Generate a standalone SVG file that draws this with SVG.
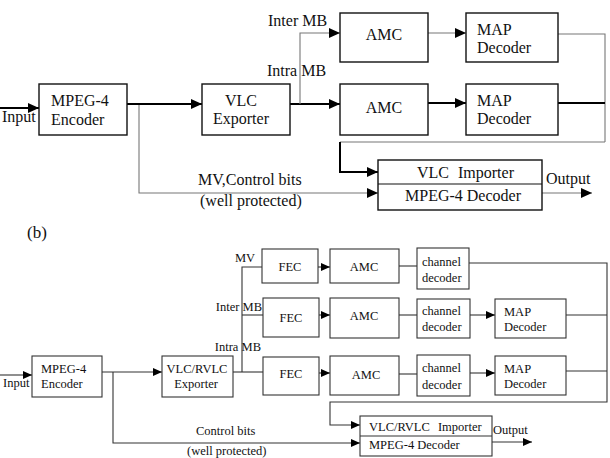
<svg xmlns="http://www.w3.org/2000/svg" width="610" height="458" viewBox="0 0 610 458">
<defs>
<marker id="arrA" markerUnits="userSpaceOnUse" markerWidth="11" markerHeight="10" refX="11" refY="5" orient="auto"><path d="M0,0 L11,5 L0,10 z" fill="#000"/></marker>
<marker id="arrB" markerUnits="userSpaceOnUse" markerWidth="9" markerHeight="8" refX="9" refY="4" orient="auto"><path d="M0,0 L9,4 L0,8 z" fill="#000"/></marker>
</defs>
<style>
.bxA{fill:#fff;stroke:#111;stroke-width:1.4}
.bxB{fill:#fff;stroke:#333;stroke-width:1.1}
text{font-family:'Liberation Serif','Times New Roman','DejaVu Serif',serif;fill:#111}
.tA{font-size:16px}
.tB{font-size:12.5px}
.m{text-anchor:middle}
.e{text-anchor:end}
.thk{fill:none;stroke:#000;stroke-width:2}
.thn{fill:none;stroke:#777;stroke-width:1.1}
.ln{fill:none;stroke:#333;stroke-width:1.1}
</style>
<rect width="610" height="458" fill="#fff"/>

<g id="connectors">
<path class="thk" d="M0,108 H39" marker-end="url(#arrA)"/>
<path class="thk" d="M127,104 H202" marker-end="url(#arrA)"/>
<path class="thn" d="M139,105 V193 H378" marker-end="url(#arrA)"/>
<path class="thk" d="M290,104 H340" marker-end="url(#arrA)"/>
<path class="thn" d="M300,104 V33 H340" marker-end="url(#arrA)"/>
<path class="thn" d="M428,33 H466" marker-end="url(#arrA)"/>
<path class="thk" d="M428,103 H466" marker-end="url(#arrA)"/>
<path class="thn" d="M558,34 H605 V142"/>
<path class="thk" d="M558,103 H605"/>
<path class="thn" d="M605,142 H340"/>
<path class="thk" d="M340,142 V172 H378" marker-end="url(#arrA)"/>
<path class="thn" d="M542,193 H592" marker-end="url(#arrA)"/>
<path class="ln" d="M0,375 H32" marker-end="url(#arrB)"/>
<path class="ln" d="M102,372 H162" marker-end="url(#arrB)"/>
<path class="ln" d="M113,372 V443 H360" marker-end="url(#arrB)"/>
<path class="ln" d="M233,372 H263"/>
<path class="ln" d="M242,372 V267 H262"/>
<path class="ln" d="M242,315 H263"/>
<path class="ln" d="M318,267 H330" marker-end="url(#arrB)"/>
<path class="ln" d="M319,315 H330" marker-end="url(#arrB)"/>
<path class="ln" d="M319,373 H330" marker-end="url(#arrB)"/>
<path class="ln" d="M399,266 H417"/>
<path class="ln" d="M399,315 H417"/>
<path class="ln" d="M399,374 H417"/>
<path class="ln" d="M470,315 H495" marker-end="url(#arrB)"/>
<path class="ln" d="M470,373 H495" marker-end="url(#arrB)"/>
<path class="ln" d="M469,263 H607 V402 H330 V425 H360" marker-end="url(#arrB)"/>
<path class="ln" d="M566,315 H607"/>
<path class="ln" d="M566,371 H607"/>
<path class="ln" d="M492,442 H532" marker-end="url(#arrB)"/>
</g>

<g id="labels">
<text class="tA" x="2" y="122">Input</text>
<text class="tA" x="268" y="26">Inter MB</text>
<text class="tA" x="267" y="76">Intra MB</text>
<text class="tA" x="198" y="185">MV,Control bits</text>
<text class="tA" x="200" y="206">(well protected)</text>
<text class="tA" x="546" y="184">Output</text>
<text x="27" y="238" style="font-size:17px">(b)</text>
<text class="tB" x="3" y="387">Input</text>
<text class="tB" x="235" y="262">MV</text>
<text class="tB e" x="262" y="311">Inter MB</text>
<text class="tB e" x="261" y="351">Intra MB</text>
<text class="tB" x="196" y="435">Control bits</text>
<text class="tB" x="187" y="455">(well protected)</text>
<text class="tB" x="493" y="434">Output</text>
</g>

<g id="a_encoder">
<rect class="bxA" x="39" y="84" width="88" height="51"/>
<text class="tA" x="51" y="106">MPEG-4</text>
<text class="tA" x="51" y="125">Encoder</text>
</g>
<g id="a_vlc_exporter">
<rect class="bxA" x="202" y="84" width="88" height="51"/>
<text class="tA m" x="241" y="106">VLC</text>
<text class="tA m" x="241" y="124">Exporter</text>
</g>
<g id="a_amc1">
<rect class="bxA" x="340" y="13" width="88" height="49"/>
<text class="tA m" x="384" y="40">AMC</text>
</g>
<g id="a_map1">
<rect class="bxA" x="466" y="13" width="92" height="49"/>
<text class="tA" x="477" y="35">MAP</text>
<text class="tA" x="477" y="53">Decoder</text>
</g>
<g id="a_amc2">
<rect class="bxA" x="340" y="84" width="88" height="51"/>
<text class="tA m" x="384" y="113">AMC</text>
</g>
<g id="a_map2">
<rect class="bxA" x="466" y="84" width="92" height="51"/>
<text class="tA" x="477" y="106">MAP</text>
<text class="tA" x="477" y="124">Decoder</text>
</g>
<g id="a_decoder">
<rect class="bxA" x="378" y="160" width="164" height="50"/>
<line x1="378" y1="184" x2="542" y2="184" stroke="#111" stroke-width="1.2"/>
<text class="tA" x="417" y="178" style="word-spacing:5px">VLC Importer</text>
<text class="tA" x="405" y="201">MPEG-4 Decoder</text>
</g>

<g id="b_encoder">
<rect class="bxB" x="32" y="356" width="70" height="41"/>
<text class="tB" x="41" y="373">MPEG-4</text>
<text class="tB" x="41" y="388">Encoder</text>
</g>
<g id="b_vlc_exporter">
<rect class="bxB" x="162" y="356" width="71" height="41"/>
<text class="tB m" x="197" y="373">VLC/RVLC</text>
<text class="tB m" x="196" y="388">Exporter</text>
</g>
<g id="b_fec1">
<rect class="bxB" x="262" y="249" width="56" height="34"/>
<text class="tB m" x="290" y="271">FEC</text>
</g>
<g id="b_fec2">
<rect class="bxB" x="263" y="298" width="56" height="39"/>
<text class="tB m" x="291" y="322">FEC</text>
</g>
<g id="b_fec3">
<rect class="bxB" x="263" y="357" width="56" height="38"/>
<text class="tB m" x="291" y="378">FEC</text>
</g>
<g id="b_amc1">
<rect class="bxB" x="330" y="249" width="69" height="34"/>
<text class="tB m" x="364" y="271">AMC</text>
</g>
<g id="b_amc2">
<rect class="bxB" x="330" y="298" width="69" height="40"/>
<text class="tB m" x="364" y="320">AMC</text>
</g>
<g id="b_amc3">
<rect class="bxB" x="330" y="356" width="69" height="39"/>
<text class="tB m" x="366" y="379">AMC</text>
</g>
<g id="b_cd1">
<rect class="bxB" x="417" y="248" width="52" height="41"/>
<text class="tB" x="422" y="266">channel</text>
<text class="tB" x="422" y="282">decoder</text>
</g>
<g id="b_cd2">
<rect class="bxB" x="417" y="299" width="53" height="39"/>
<text class="tB" x="422" y="315">channel</text>
<text class="tB" x="422" y="331">decoder</text>
</g>
<g id="b_cd3">
<rect class="bxB" x="417" y="355" width="53" height="41"/>
<text class="tB" x="422" y="372">channel</text>
<text class="tB" x="422" y="389">decoder</text>
</g>
<g id="b_map2">
<rect class="bxB" x="495" y="299" width="71" height="39"/>
<text class="tB" x="504" y="316">MAP</text>
<text class="tB" x="504" y="331">Decoder</text>
</g>
<g id="b_map3">
<rect class="bxB" x="495" y="356" width="71" height="39"/>
<text class="tB" x="504" y="373">MAP</text>
<text class="tB" x="504" y="388">Decoder</text>
</g>
<g id="b_decoder">
<rect class="bxB" x="360" y="416" width="132" height="40"/>
<line x1="360" y1="436" x2="492" y2="436" stroke="#333" stroke-width="1.1"/>
<text class="tB" x="369" y="431" style="word-spacing:5px">VLC/RVLC Importer</text>
<text class="tB" x="369" y="449">MPEG-4 Decoder</text>
</g>
</svg>
